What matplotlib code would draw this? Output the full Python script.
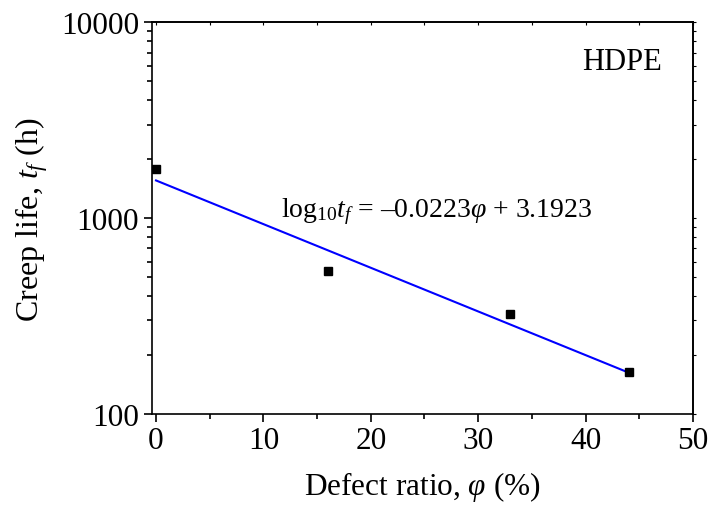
import numpy as np
import matplotlib
matplotlib.use("Agg")
import matplotlib.pyplot as plt
from matplotlib.ticker import LogLocator, NullFormatter, FixedLocator

# Data
defect_ratio = [0, 16, 33, 44]
creep_life = [1780, 537, 322, 164]
fit_slope = -0.0223
fit_intercept = 3.1923
fit_range = [0, 44]

plt.rcParams['font.family'] = ['Liberation Serif', 'DejaVu Serif']
plt.rcParams['mathtext.fontset'] = 'custom'
plt.rcParams['mathtext.rm'] = 'Liberation Serif'
plt.rcParams['mathtext.it'] = 'Liberation Serif:italic'
plt.rcParams['mathtext.bf'] = 'Liberation Serif:bold'

fig = plt.figure(figsize=(7.10, 5.06), dpi=100)
ax = fig.add_axes([0.2137, 0.180, 0.976 - 0.2137, 0.954 - 0.180])

fx = np.array(fit_range, dtype=float)
fy = 10 ** (fit_slope * fx + fit_intercept)
ax.plot(fx, fy, color='#0000ff', lw=1.5, zorder=2)
ax.plot(defect_ratio, creep_life, 's', color='black', markersize=6, zorder=3)

ax.set_yscale('log')
ax.set_xlim(-0.4, 50)
ax.set_ylim(100, 10000)
ax.set_xticks([0, 10, 20, 30, 40, 50])
ax.xaxis.set_minor_locator(FixedLocator([5, 15, 25, 35, 45]))
ax.set_yticks([100, 1000, 10000])
ax.set_yticklabels(['100', '1000', '10000'])
ax.yaxis.set_minor_locator(LogLocator(base=10, subs=np.arange(2, 10)))
ax.yaxis.set_minor_formatter(NullFormatter())

ax.tick_params(which='major', direction='out', length=6, width=1.2, labelsize=22.5, pad=3)
ax.tick_params(which='minor', direction='out', length=3.5, width=1.2)
for s in ax.spines.values():
    s.set_linewidth(1.2)

# tiny ticks on top/right
secx = ax.secondary_xaxis('top')
secx.set_xticks([0, 10, 20, 30, 40, 50])
secx.xaxis.set_minor_locator(FixedLocator([5, 15, 25, 35, 45]))
secx.tick_params(which='both', direction='in', length=2, width=0.8, labeltop=False)
secx.set_xticklabels([])
secy = ax.secondary_yaxis('right')
secy.set_yticks([100, 1000, 10000])
secy.yaxis.set_minor_locator(LogLocator(base=10, subs=np.arange(2, 10)))
secy.tick_params(which='both', direction='out', length=2, width=0.8, labelright=False)
secy.yaxis.set_minor_formatter(NullFormatter())
secy.set_yticklabels([])
secx.spines['top'].set_linewidth(1.2)
secy.spines['right'].set_linewidth(1.2)

ax.set_xlabel(r'Defect ratio, $\it{\varphi}$ (%)', fontsize=22.5, labelpad=10)
ax.set_ylabel(r'Creep life, $t_f$ (h)', fontsize=23, labelpad=8)

ax.text(11.6, 1089, r'log$_{10}$$t_f$ = –0.0223$\varphi$ + 3.1923', fontsize=20,
        va='center', ha='left')
ax.text(39.7, 6270, 'HDPE', fontsize=22, va='center', ha='left')

fig.savefig('out.png', dpi=100)
